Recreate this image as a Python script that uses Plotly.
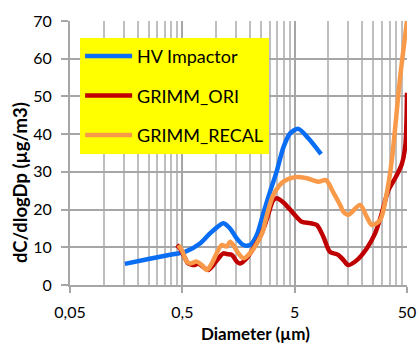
import plotly.graph_objects as go

# ---- data ----
hv_x = [0.154, 0.25, 0.389, 0.528, 0.719, 0.882, 1.08, 1.16, 1.33, 1.52, 1.75, 2.0, 2.3, 2.63,
        3.0, 3.45, 3.97, 4.55, 5.4, 6.62, 8.59]
hv_y = [5.6, 6.9, 8.0, 8.8, 11.0, 13.7, 15.9, 16.4, 15.0, 12.4, 10.6, 10.6, 13.3, 19.0,
        24.5, 30.0, 36.5, 40.2, 41.4, 38.9, 34.7]

ori_x = [0.446, 0.477, 0.528, 0.565, 0.649, 0.694, 0.797, 0.852, 0.944, 1.05, 1.16, 1.24, 1.38,
         1.525, 1.63, 1.87, 2.14, 2.46, 2.72, 2.9, 3.23, 3.46, 3.97, 4.87, 5.78, 6.86, 7.87, 9.0,
         10.3, 12.2, 13.6, 15.0, 17.9, 21.9, 26.0, 29.8, 34.2, 39.2, 44.9, 48.3, 50.0]
ori_y = [10.6, 9.7, 7.1, 5.7, 5.3, 5.7, 4.4, 4.0, 5.3, 7.1, 8.4, 8.2, 8.0,
         6.2, 5.7, 7.1, 9.7, 12.8, 16.0, 18.6, 22.5, 23.0, 21.9, 19.0, 16.8, 16.4, 15.9, 12.8,
         8.8, 8.0, 6.6, 5.3, 6.6, 9.7, 13.7, 19.0, 25.2, 28.3, 32.0, 37.0, 51.0]

recal_x = [0.461, 0.494, 0.547, 0.585, 0.672, 0.744, 0.825, 0.914, 1.01, 1.12, 1.24, 1.33, 1.42,
           1.58, 1.75, 2.0, 2.3, 2.63, 2.72, 3.23, 3.97, 5.04, 6.41, 8.13, 9.5, 11.06, 12.7,
           13.6, 15.0, 19.1, 21.9, 24.3, 28.8, 33.0, 36.6, 43.4, 50.0]
recal_y = [10.6, 9.3, 6.2, 5.7, 6.2, 5.3, 4.0, 5.7, 8.4, 10.6, 10.2, 11.5, 10.6,
           8.4, 7.1, 8.4, 11.0, 14.6, 16.5, 23.9, 27.4, 28.6, 28.3, 27.4, 27.8, 24.5, 21.2,
           19.4, 18.6, 21.2, 18.1, 15.9, 17.2, 24.3, 33.0, 55.0, 70.0]

series_names = ["HV Impactor", "GRIMM_ORI", "GRIMM_RECAL"]
series_colors = ["#0a6ef5", "#c00000", "#f99a4a"]

x_tickvals = [0.05, 0.5, 5, 50]
x_ticktext = ["0,05", "0,5", "5", "50"]
x_minor = [m * d for d in (0.05, 0.5, 5) for m in (2, 3, 4, 5, 6, 7, 8, 9)]

x_title = "Diameter (µm)"
y_title = "dC/dlogDp (µg/m3)"

FONT = "Lato, 'Open Sans', sans-serif"

fig = go.Figure()
for i, (xs, ys) in enumerate([(hv_x, hv_y), (ori_x, ori_y), (recal_x, recal_y)]):
    fig.add_trace(go.Scatter(
        x=xs, y=ys, mode="lines", name=series_names[i],
        line=dict(color=series_colors[i], width=4.5, shape="spline", smoothing=0.8),
        legendgroup=f"g{i}",
    ))

fig.update_layout(
    width=417, height=344,
    margin=dict(l=70, r=10, t=21, b=59),
    paper_bgcolor="white", plot_bgcolor="white",
    font=dict(family=FONT, size=16, color="#000000"),
    showlegend=True,
    legend=dict(
        x=0.03, y=0.936, xanchor="left", yanchor="top",
        bgcolor="#ffff00", borderwidth=0,
        font=dict(family=FONT, size=18, color="#000000"),
        tracegroupgap=13, itemwidth=47,
        entrywidth=165, entrywidthmode="pixels",
        traceorder="grouped",
    ),
    annotations=[
        dict(text=f"<b>{x_title}</b>", xref="paper", yref="paper",
             x=0.549, y=-0.182, xanchor="center", yanchor="middle",
             showarrow=False, font=dict(family=FONT, size=17, color="#000000")),
        dict(text=f"<b>{y_title}</b>", xref="paper", yref="paper",
             x=-0.1484, y=0.39, xanchor="center", yanchor="middle", textangle=-90,
             showarrow=False, font=dict(family=FONT, size=18.5, color="#000000")),
    ],
)

fig.update_xaxes(
    type="log", range=[-1.30103, 1.69897], automargin=False,
    tickmode="array", tickvals=x_tickvals, ticktext=x_ticktext,
    ticks="outside", ticklen=6, tickwidth=2, tickcolor="#a6a6a6",
    ticklabelstandoff=6,
    showgrid=True, gridcolor="#a6a6a6", gridwidth=2,
    minor=dict(tickmode="array", tickvals=x_minor, showgrid=True,
               gridcolor="#bfbfbf", gridwidth=1.5, ticks=""),
    showline=True, linecolor="#a6a6a6", linewidth=2,
    zeroline=False,
    tickfont=dict(family=FONT, size=16),
)
fig.update_yaxes(
    range=[0, 70], dtick=10, tick0=0, automargin=False,
    ticks="outside", ticklen=7, tickwidth=2, tickcolor="#a6a6a6",
    ticklabelstandoff=6,
    showgrid=True, gridcolor="#a6a6a6", gridwidth=2,
    showline=True, linecolor="#a6a6a6", linewidth=2,
    zeroline=False,
    tickfont=dict(family=FONT, size=16),
)

fig.write_html("out.html")
